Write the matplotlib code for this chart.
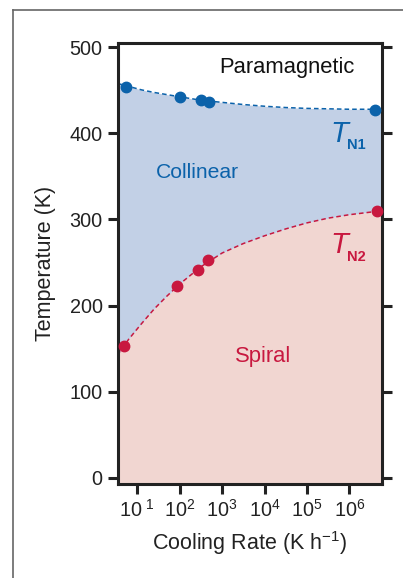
import matplotlib
matplotlib.use('Agg')
import matplotlib.pyplot as plt
from matplotlib.lines import Line2D

plt.rcParams['font.family'] = ['Liberation Sans', 'DejaVu Sans']
plt.rcParams['mathtext.default'] = 'regular'

# measured transition points (cooling rate in K/h, temperature in K)
tn1_rate = [5.4, 102, 309, 500, 4.1e6]
tn1_temp = [454, 442.6, 438.8, 436.8, 427.2]
tn2_rate = [4.9, 87, 275, 468, 4.4e6]
tn2_temp = [153.3, 222.7, 241.6, 252.6, 309.8]

# dashed guide curves
curve_rate = [3.4, 6.3, 12.6, 25, 50, 100, 316, 1000, 3162, 1e4,
              3.16e4, 1e5, 3.16e5, 1e6, 3.16e6, 5.9e6]
curve_tn1 = [458, 454.5, 450.5, 447.5, 445, 442.5, 438.5, 436, 433.5,
             431.5, 430, 429, 428.5, 428, 428, 428.3]
curve_tn2 = [142.5, 161, 179, 196, 211, 225, 245, 261, 272, 281,
             289, 296, 301.5, 305.5, 308.5, 310]

yticks = [0, 100, 200, 300, 400, 500]
xticks = [1e1, 1e2, 1e3, 1e4, 1e5, 1e6]
xticklabels = ['$10^{\\ 1}$', '$10^{2}$', '$10^{3}$', '$10^{4}$', '$10^{5}$', '$10^{6}$']

blue = '#0b62aa'
red = '#c8183f'
blue_fill = '#c2d0e6'
red_fill = '#f1d6d1'

fig = plt.figure(figsize=(4.03, 5.78), dpi=100)
ax = fig.add_axes([0.2916, 0.1621, 0.6563, 0.7640])

ymin, ymax = -7.7, 505.3
ax.fill_between(curve_rate, ymin, curve_tn2, color=red_fill, lw=0)
ax.fill_between(curve_rate, curve_tn2, curve_tn1, color=blue_fill, lw=0)
ax.plot(curve_rate, curve_tn1, ls=(0, (3, 2)), color=blue, lw=1.1)
ax.plot(curve_rate, curve_tn2, ls=(0, (3, 2)), color=red, lw=1.1)
ax.plot(tn1_rate, tn1_temp, 'o', color=blue, ms=7.5, clip_on=False, zorder=5)
ax.plot(tn2_rate, tn2_temp, 'o', color=red, ms=7.5, clip_on=False, zorder=5)

ax.set_xscale('log')
ax.set_xlim(3.41, 5.89e6)
ax.set_ylim(ymin, ymax)
ax.set_xticks(xticks)
ax.set_xticklabels(xticklabels)
ax.minorticks_off()
ax.set_yticks(yticks)
ax.tick_params(axis='both', direction='out', length=7.2, width=2.2,
               labelsize=14.3, color='#222222', labelcolor='#222222')
ax.tick_params(axis='y', right=True, pad=3.5)
ax.tick_params(axis='x', pad=3)
for s in ax.spines.values():
    s.set_linewidth(2.2)
    s.set_color('#222222')

ax.set_xlabel('Cooling Rate (K h$^{-1}$)', fontsize=15.5, color='#222222', labelpad=6)
ax.set_ylabel('Temperature (K)', fontsize=15.5, color='#222222', labelpad=10)

ax.text(10**4.53, 477, 'Paramagnetic', fontsize=15.8, ha='center', va='center', color='#111111')
ax.text(10**2.41, 354, 'Collinear', fontsize=15.2, ha='center', va='center', color=blue)
ax.text(10**3.96, 140.5, 'Spiral', fontsize=15.8, ha='center', va='center', color=red)

ax.text(10**5.545, 390, 'T', fontsize=21, style='italic', color=blue, ha='left', va='baseline')
ax.text(10**5.94, 381.8, 'N1', fontsize=10.5, weight='bold', color=blue, ha='left', va='baseline')
ax.text(10**5.545, 261, 'T', fontsize=21, style='italic', color=red, ha='left', va='baseline')
ax.text(10**5.94, 251.7, 'N2', fontsize=10.5, weight='bold', color=red, ha='left', va='baseline')

# outer panel border
fig.add_artist(Line2D([13 / 403, 13 / 403], [0, 1 - 10 / 578], color='#666666', lw=1.2))
fig.add_artist(Line2D([13 / 403, 1], [1 - 10 / 578, 1 - 10 / 578], color='#666666', lw=1.2))

fig.savefig('out.png', dpi=100)
